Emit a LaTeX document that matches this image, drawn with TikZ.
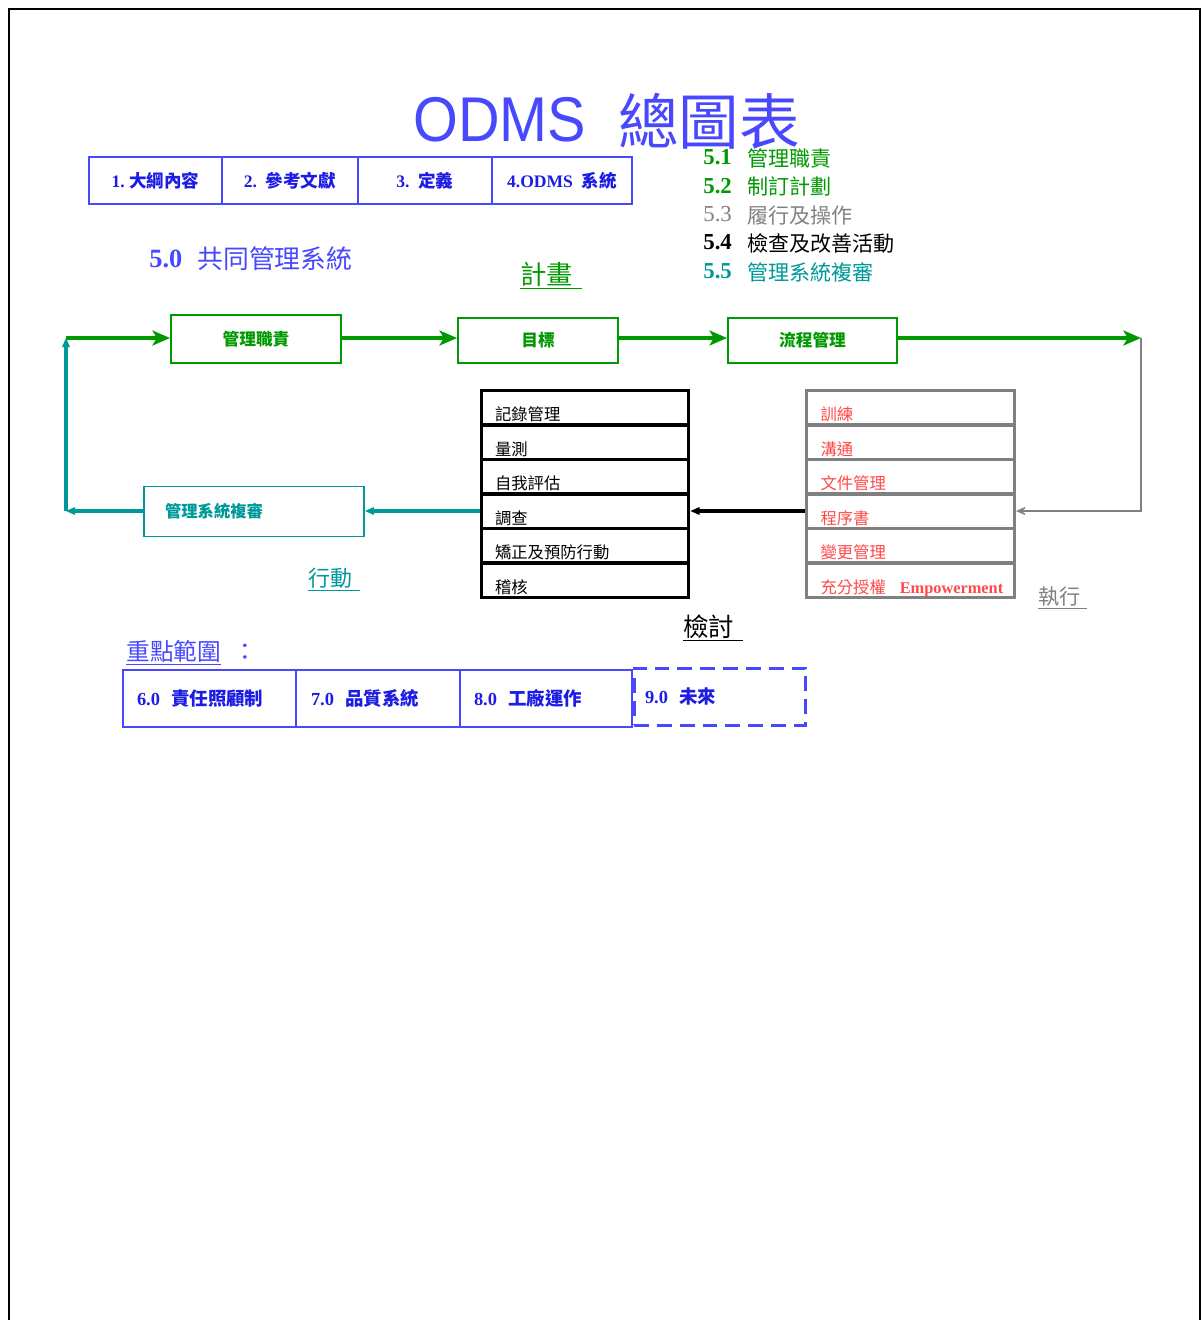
\documentclass[tikz,border=0pt]{standalone}
\usepackage{fontspec}
\usepackage{graphicx}
\setmainfont{Liberation Serif}
\newfontfamily\cjk{Noto Sans CJK TC}
\newfontfamily\arial{Liberation Sans}
\usetikzlibrary{arrows.meta}
\definecolor{odblue}{RGB}{72,72,255}
\definecolor{boxblue}{RGB}{28,28,228}
\definecolor{pgreen}{RGB}{0,153,0}
\definecolor{pteal}{RGB}{0,153,153}
\definecolor{pgray}{RGB}{128,128,128}
\definecolor{pred}{RGB}{255,72,72}
\begin{document}
\begin{tikzpicture}[x=0.02cm,y=-0.02cm,
		num/.style={anchor=base west,inner sep=0pt,font=\fontsize{13}{13}\selectfont\bfseries},
		item/.style={anchor=base west,inner sep=0pt,font=\cjk\fontsize{12}{12}\selectfont},
		gbox/.style={draw=pgreen,line width=1.1pt,text=pgreen,inner sep=0pt,font=\cjk\fontsize{9.5}{10}\selectfont\bfseries},
		garrow/.style={draw=pgreen,line width=2.3pt,-{Stealth[length=10pt,width=8.5pt,inset=2.5pt]}},
		tarrow/.style={line width=1.8pt,-{Stealth[length=9pt,width=8pt,inset=6pt]}},
		blk/.style={draw=black,line width=1.7pt,minimum width=4.16cm,minimum height=0.68cm,text width=3.6cm,align=left,inner xsep=0.28cm,inner ysep=0pt,text height=0.6cm,text depth=0.08cm,font=\cjk\fontsize{9.3}{10}\selectfont},
		exe/.style={blk,draw=pgray,text=pred},
		tbox/.style={draw=odblue,line width=1.1pt,minimum height=0.94cm,text=boxblue,inner sep=0pt,font=\fontsize{10}{11}\selectfont\bfseries},
		bbox/.style={draw=odblue,line width=1.1pt,minimum height=1.14cm,text=boxblue,align=left,inner ysep=0pt,font=\fontsize{10.5}{12}\selectfont\bfseries},
		ulabel/.style={anchor=base west,inner sep=0pt}]
	\useasboundingbox (0,0) rectangle (1203,1320);
	% Rahmen
	\draw[line width=1.2pt] (9,1320) -- (9,9) -- (1200,9) -- (1200,1320);
	% Titel
	\node[anchor=base west,inner sep=0pt,text=odblue,font=\arial\fontsize{36}{36}\selectfont] (odms) at (413,141) {\scalebox{0.91}[1]{ODMS}};
	\node[anchor=base west,inner sep=0pt,text=odblue,font=\cjk\fontsize{34.5}{35}\selectfont] (zong) at (618,144) {總圖表};
	% obere Leiste
	\node[tbox,minimum width=2.66cm] (t1) at (155.5,180.5) {1.\ {\cjk 大綱內容}};
	\node[tbox,minimum width=2.72cm] (t2) at (290,180.5) {2.\ \ {\cjk 參考文獻}};
	\node[tbox,minimum width=2.68cm] (t3) at (425,180.5) {3.\ \ {\cjk 定義}};
	\node[tbox,minimum width=2.8cm] (t4) at (562,180.5) {4.ODMS\ \ {\cjk 系統}};
	% Liste 5.x
	\node[num,text=pgreen] (n51) at (703,164) {5.1};
	\node[item,text=pgreen] (l51) at (747,166) {管理職責};
	\node[num,text=pgreen] (n52) at (703,193) {5.2};
	\node[item,text=pgreen] (l52) at (747,194) {制訂計劃};
	\node[num,text=pgray,font=\fontsize{13}{13}\selectfont] (n53) at (703,221) {5.3};
	\node[item,text=pgray] (l53) at (747,223) {履行及操作};
	\node[num,text=black] (n54) at (703,249) {5.4};
	\node[item,text=black] (l54) at (747,251) {檢查及改善活動};
	\node[num,text=pteal] (n55) at (703,278) {5.5};
	\node[item,text=pteal] (l55) at (747,280) {管理系統複審};
	% 5.0
	\node[num,text=odblue,font=\fontsize{15}{15}\selectfont\bfseries] (n50) at (149,267) {5.0};
	\node[item,text=odblue,font=\cjk\fontsize{14.7}{15}\selectfont] (l50) at (197,268) {共同管理系統};
	\node[ulabel,text=pgreen,font=\cjk\fontsize{15}{15}\selectfont] (plan) at (520,284) {\underline{計畫\hspace{0.35em}}};
	% Planen
	\coordinate (tl) at (66,338);
	\coordinate (tr) at (1141,338);
	\coordinate (br) at (1141,511);
	\coordinate (bl) at (66,511);
	\node[gbox,minimum width=3.4cm,minimum height=0.96cm] (resp) at (256,339) {管理職責};
	\node[gbox,minimum width=3.2cm,minimum height=0.9cm] (goal) at (538,340.5) {目標};
	\node[gbox,minimum width=3.38cm,minimum height=0.9cm] (proc) at (812.5,340.5) {流程管理};
	\draw[garrow] (tl) -- (resp.west |- tl);
	\draw[garrow] (resp.east |- tl) -- (goal.west |- tl);
	\draw[garrow] (goal.east |- tl) -- (proc.west |- tl);
	\draw[garrow] (proc.east |- tr) -- (tr);
	% Ausfuehren
	\node[exe] (ex1) at (910.5,407.5) {訓練};
	\node[exe] (ex2) at (910.5,442) {溝通};
	\node[exe] (ex3) at (910.5,476.5) {文件管理};
	\node[exe] (ex4) at (910.5,511) {程序書};
	\node[exe] (ex5) at (910.5,545.5) {變更管理};
	\node[exe] (ex6) at (910.5,580) {\mbox{充分授權\hspace{0.85em}{\rmfamily\bfseries Empowerment}}};
	\draw[pgray,tarrow,line width=1.6pt] (tr) -- (br) -- (ex4.east |- br);
	\node[ulabel,text=pgray,font=\cjk\fontsize{12}{12}\selectfont] (exec) at (1038,604) {\underline{執行\hspace{0.3em}}};
	% Pruefen
	\node[blk] (bk1) at (585,407.5) {記錄管理};
	\node[blk] (bk2) at (585,442) {量測};
	\node[blk] (bk3) at (585,476.5) {自我評估};
	\node[blk] (bk4) at (585,511) {調查};
	\node[blk] (bk5) at (585,545.5) {矯正及預防行動};
	\node[blk] (bk6) at (585,580) {稽核};
	\draw[tarrow] (ex4.west) -- (bk4.east);
	\node[ulabel,text=black,font=\cjk\fontsize{14.5}{15}\selectfont] (check) at (683,636) {\underline{檢討\hspace{0.35em}}};
	% Handeln
	\node[draw=pteal,line width=1.1pt,text=pteal,minimum width=4.4cm,minimum height=1cm,text width=3.56cm,align=left,inner xsep=0.42cm,font=\cjk\fontsize{9.3}{10}\selectfont\bfseries] (rev) at (254,511.5) {管理系統複審};
	\draw[pteal,tarrow,line width=2pt] (bk4.west) -- (rev.east |- bk4.west);
	\draw[pteal,tarrow,line width=2pt] (rev.west |- bl) -- (bl);
	\draw[pteal,tarrow,line width=2pt] (bl) -- (tl);
	\node[ulabel,text=pteal,font=\cjk\fontsize{12.5}{13}\selectfont] (act) at (308,586) {\underline{行動\hspace{0.35em}}};
	% Schwerpunkte
	\node[ulabel,text=odblue,font=\cjk\fontsize{13.5}{14}\selectfont] (focus) at (126,660) {\underline{重點範圍}\hspace{0.5em}：};
	\node[bbox,minimum width=3.46cm,text width=2.9cm,inner xsep=0.28cm] (b6) at (209.5,698.5) {6.0\hspace{0.6em}{\cjk 責任照顧制}};
	\node[bbox,minimum width=3.28cm,text width=2.68cm,inner xsep=0.3cm] (b7) at (378,698.5) {7.0\hspace{0.6em}{\cjk 品質系統}};
	\node[bbox,minimum width=3.44cm,text width=2.88cm,inner xsep=0.28cm] (b8) at (546,698.5) {8.0\hspace{0.6em}{\cjk 工廠運作}};
	\node[bbox,minimum width=3.44cm,text width=3cm,inner xsep=0.22cm,line width=1.7pt,dash pattern=on 8.5pt off 4.5pt] (b9) at (720,696.5) {9.0\hspace{0.6em}{\cjk 未來}};
\end{tikzpicture}
\end{document}
